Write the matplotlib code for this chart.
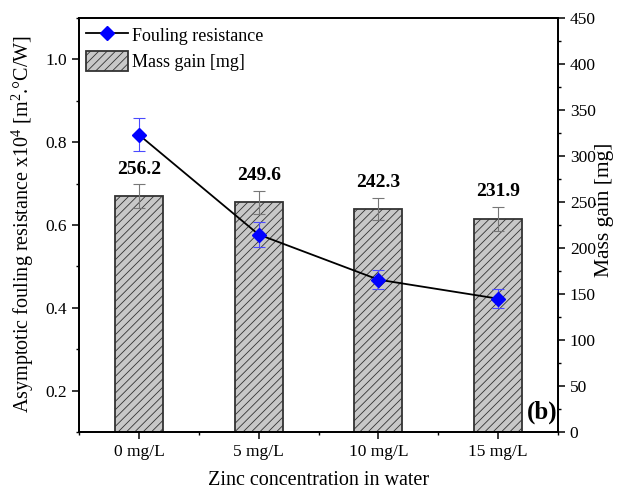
import matplotlib
matplotlib.use("Agg")
import matplotlib.pyplot as plt
from matplotlib.patches import Patch
from matplotlib.lines import Line2D
from matplotlib.ticker import MultipleLocator

plt.rcParams['font.family'] = ['Liberation Serif', 'DejaVu Serif']
plt.rcParams['mathtext.fontset'] = 'custom'
plt.rcParams['mathtext.rm'] = 'Liberation Serif'
plt.rcParams['hatch.linewidth'] = 0.6

categories = ["0 mg/L", "5 mg/L", "10 mg/L", "15 mg/L"]
mass_gain = [256.2, 249.6, 242.3, 231.9]
mass_err = [13.0, 12.5, 12.3, 13.2]
fouling = [0.818, 0.577, 0.468, 0.422]
fouling_err = [0.040, 0.030, 0.023, 0.023]
mass_labels = ["256.2", "249.6", "242.3", "231.9"]

fig = plt.figure(figsize=(6.21, 4.96), dpi=100)
ax = fig.add_axes([79/621, 1-432/496, (558-79)/621, (432-18)/496])
ax2 = ax.twinx()

x = list(range(len(categories)))

ax2.bar(x, mass_gain, width=0.4, color='#c8c8c8', edgecolor='#333333',
        hatch='////', linewidth=1.3, zorder=2)
ax2.errorbar(x, mass_gain, yerr=mass_err, fmt='none', ecolor='#777777',
             elinewidth=0.8, capsize=4, capthick=0.8, zorder=3)
for xi, v, e, lab in zip(x, mass_gain, mass_err, mass_labels):
    ax2.text(xi, v + e + 7, lab, ha='center', va='bottom', fontsize=14,
             fontweight='bold')

ax.plot(x, fouling, color='black', lw=1.3, zorder=4)
ax.errorbar(x, fouling, yerr=fouling_err, fmt='none', ecolor='#4a4aff',
            elinewidth=0.8, capsize=4, capthick=0.8, zorder=5)
ax.plot(x, fouling, ls='none', marker='D', color='blue', markersize=7, zorder=6)

ax.set_zorder(ax2.get_zorder() + 1)
ax.patch.set_visible(False)

ax.set_xlim(-0.5, 3.5)
ax.set_ylim(0.1, 1.1)
ax2.set_ylim(0, 450)
ax.set_xticks(x)
ax.set_xticklabels(categories, fontsize=12.5)
ax.xaxis.set_minor_locator(MultipleLocator(0.5))
ax.yaxis.set_minor_locator(MultipleLocator(0.1))
ax.set_yticks([0.2, 0.4, 0.6, 0.8, 1.0])
ax.set_yticklabels(["0.2", "0.4", "0.6", "0.8", "1.0"], fontsize=12.5)
ax2.yaxis.set_major_locator(MultipleLocator(50))
ax2.yaxis.set_minor_locator(MultipleLocator(25))
ax2.tick_params(axis='y', labelsize=12.5)

for a in (ax, ax2):
    a.tick_params(which='major', direction='out', length=5, width=1.1)
    a.tick_params(which='minor', direction='out', length=2.5, width=1.0)
    for s in a.spines.values():
        s.set_linewidth(1.3)

ax.set_xlabel("Zinc concentration in water", fontsize=14.5, labelpad=8)
fig.text(23/621, 1-224/496, r"Asymptotic fouling resistance x10$^4$ [m$^2$.°C/W]",
         fontsize=14.5, rotation=90, ha='center', va='center')
fig.text(605/621, 1-210/496, "Mass gain [mg]", fontsize=15.5, rotation=90,
         ha='center', va='center')

handles = [Line2D([0], [0], color='black', lw=1.3, marker='D', markersize=7,
                  markerfacecolor='blue', markeredgecolor='blue'),
           Patch(facecolor='#c8c8c8', edgecolor='#333333', hatch='////', linewidth=1.3)]
ax.legend(handles, ["Fouling resistance", "Mass gain [mg]"], loc='upper left',
          frameon=False, fontsize=13, handlelength=2.3, handleheight=1.3,
          borderpad=0.1, borderaxespad=0.3, labelspacing=0.35, handletextpad=0.25)

ax.text(0.998, 0.02, "(b)", transform=ax.transAxes, ha='right', va='bottom',
        fontsize=18, fontweight='bold')

fig.savefig("out.png", dpi=100)
